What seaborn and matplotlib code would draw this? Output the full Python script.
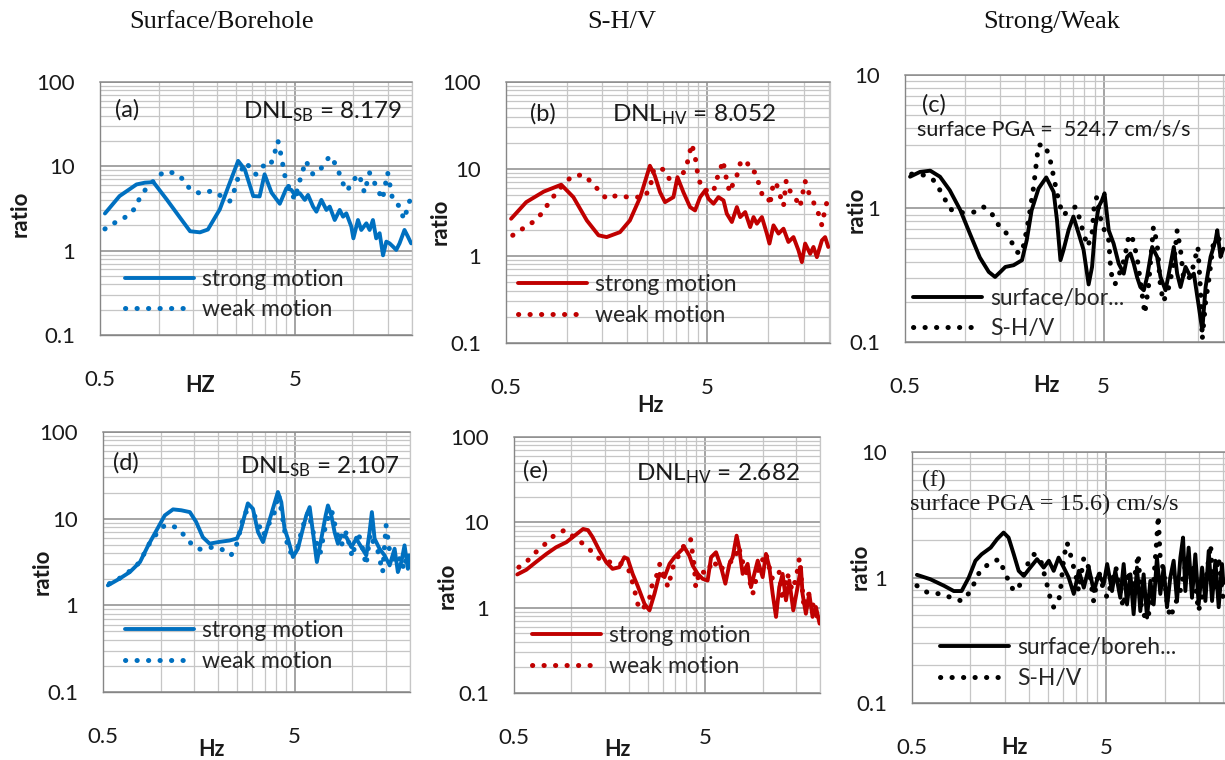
import numpy as np
import pandas as pd
import matplotlib
matplotlib.use("Agg")
import matplotlib.pyplot as plt
import seaborn as sns
from matplotlib.ticker import FixedLocator, FuncFormatter, NullFormatter

# ---------------- data ----------------
titles = ["Surface/Borehole", "S-H/V", "Strong/Weak"]

a_strong_hz = [0.53, 0.63, 0.77, 0.85, 0.94, 1.10, 1.29, 1.45, 1.63, 1.79, 2.06, 2.32, 2.56, 2.77, 3.06, 3.30,
               3.50, 3.80, 4.19, 4.53, 4.81, 5.00, 5.31, 5.63, 5.85, 6.21, 6.46, 6.85, 7.27, 7.56, 8.02, 8.51,
               8.85, 9.20, 9.76, 10.0, 10.56, 10.98, 11.66, 12.12, 12.6, 13.1, 13.64, 14.2, 14.76, 15.35, 15.96,
               16.6, 17.26, 18.3, 19.05, 19.8]
a_strong_ratio = [2.76, 4.44, 6.1, 6.4, 6.5, 4.05, 2.45, 1.7, 1.65, 1.78, 3.08, 6.4, 11.6, 9.2, 4.44, 4.4,
                  8.05, 4.87, 3.6, 5.5, 5.25, 4.58, 4.8, 4.0, 4.58, 3.33, 2.9, 4.0, 3.04, 3.33, 2.31, 3.04,
                  2.53, 2.77, 1.93, 1.4, 2.31, 1.76, 2.11, 1.76, 2.31, 1.4, 1.61, 0.88, 1.28, 1.22, 1.12,
                  1.02, 1.22, 1.76, 1.47, 1.22]
a_weak_hz = [0.53, 0.595, 0.68, 0.76, 0.80, 0.87, 0.96, 1.06, 1.19, 1.34, 1.45, 1.63, 1.87, 2.10, 2.32, 2.46,
             2.60, 2.83, 3.00, 3.16, 3.43, 3.73, 3.95, 4.10, 4.26, 4.45, 4.70, 5.00, 5.30, 5.70, 6.20, 6.70,
             7.13, 7.60, 8.20, 8.80, 9.30, 9.90, 10.7, 11.4, 12.1, 13.1, 14.1, 15.0, 15.9, 17.2, 18.2, 19.8]
a_weak_ratio = [1.81, 2.14, 2.52, 3.2, 4.24, 5.6, 7.0, 8.6, 8.4, 7.0, 5.33, 4.78, 5.1, 4.44, 3.87, 5.33,
                8.4, 11.1, 8.8, 8.05, 10.1, 9.9, 14.6, 20.0, 13.3, 7.7, 5.33, 4.05, 6.7, 11.6, 8.05, 8.8,
                11.1, 13.3, 10.1, 6.4, 5.1, 6.7, 8.05, 4.87, 8.4, 5.8, 4.05, 8.4, 4.05, 3.37, 2.34, 4.44]

b_strong_hz = [0.53, 0.63, 0.77, 0.94, 1.08, 1.26, 1.44, 1.58, 1.84, 2.06, 2.32, 2.59, 2.74, 2.91, 3.08, 3.39,
               3.55, 3.80, 4.10, 4.34, 4.60, 4.87, 5.06, 5.36, 5.67, 6.01, 6.24, 6.61, 7.00, 7.27, 7.70, 8.15,
               8.47, 8.80, 9.32, 9.86, 10.16, 10.64, 11.27, 11.93, 12.62, 13.37, 14.16, 14.72, 15.28, 16.18,
               16.8, 17.47, 18.5, 19.2, 19.9]
b_strong_ratio = [2.68, 4.16, 5.5, 6.6, 4.75, 2.56, 1.73, 1.65, 1.88, 2.56, 4.75, 10.9, 8.4, 5.4, 4.16, 4.75,
                  8.05, 5.4, 3.65, 3.34, 4.75, 5.67, 4.55, 3.99, 4.75, 4.35, 3.06, 2.46, 3.65, 2.80, 3.20, 2.15,
                  2.80, 2.35, 2.80, 1.81, 1.39, 2.25, 1.81, 2.06, 1.45, 1.65, 1.16, 0.85, 1.39, 1.06,
                  1.27, 0.97, 1.51, 1.65, 1.27]
b_weak_hz = [0.54, 0.605, 0.68, 0.75, 0.81, 0.88, 0.96, 1.06, 1.20, 1.33, 1.47, 1.58, 1.77, 2.02, 2.27, 2.44,
             2.60, 2.70, 2.85, 3.08, 3.26, 3.53, 3.81, 3.96, 4.18, 4.35, 4.50, 4.70, 4.97, 5.36, 5.50, 5.75,
             5.97, 6.24, 6.45, 6.70, 7.00, 7.27, 7.80, 8.15, 8.60, 8.95, 9.32, 10.0, 10.2, 10.64, 11.0, 11.4,
             11.93, 12.3, 12.8, 13.6, 14.4, 15.28, 15.9, 16.8, 17.8, 18.5, 19.2, 20.0]
b_weak_ratio = [1.73, 2.06, 2.45, 3.06, 3.98, 5.18, 6.6, 8.2, 8.6, 7.06, 5.4, 4.54, 4.96, 4.75, 4.75, 4.75,
                6.2, 9.6, 10.5, 9.6, 7.4, 6.75, 9.2, 11.4, 19.4, 13.6, 8.05, 5.93, 5.66, 5.4, 7.25, 9.2,
                12.5, 7.3, 5.4, 6.76, 8.4, 11.5, 12.7, 9.6, 9.2, 7.06, 5.19, 5.0, 3.81, 7.06, 6.76, 5.19,
                3.75, 7.3, 5.67, 4.75, 3.65, 7.25, 5.4, 4.16, 3.06, 2.25, 3.5, 4.9]

c_sb_hz = [0.53, 0.595, 0.67, 0.75, 0.84, 0.95, 1.06, 1.19, 1.32, 1.42, 1.51, 1.60, 1.76, 1.94, 2.05, 2.17,
           2.35, 2.57, 2.80, 2.91, 3.03, 3.14, 3.33, 3.52, 3.74, 3.96, 4.20, 4.37, 4.54, 4.72, 4.90, 5.05,
           5.30, 5.61, 5.95, 6.31, 6.56, 6.82, 7.08, 7.36, 7.65, 7.96, 8.27, 8.77, 9.29, 9.66, 10.24, 10.64,
           11.27, 11.72, 12.18, 12.91, 13.68, 14.22, 15.07, 15.67, 16.29, 17.26, 18.29, 18.65, 19.37, 20.0]
c_sb_ratio = [1.73, 1.88, 1.92, 1.73, 1.37, 0.97, 0.65, 0.43, 0.335, 0.307, 0.335, 0.365, 0.376, 0.41, 0.58, 0.97,
              1.41, 1.71, 1.33, 0.82, 0.41, 0.49, 0.69, 0.87, 0.65, 0.49, 0.27, 0.365, 0.73, 1.03, 1.15, 1.30,
              0.687, 0.546, 0.387, 0.325, 0.434, 0.46, 0.387, 0.307, 0.258, 0.244, 0.307, 0.515, 0.434, 0.307,
              0.244, 0.325, 0.515, 0.325, 0.258, 0.365, 0.307, 0.325, 0.183, 0.122, 0.258, 0.434, 0.578, 0.687,
              0.434, 0.5]
c_hv_hz = [0.54, 0.62, 0.695, 0.75, 0.80, 0.86, 0.98, 1.11, 1.24, 1.37, 1.48, 1.60, 1.72, 1.83, 1.94, 2.05,
           2.13, 2.22, 2.30, 2.35, 2.54, 2.69, 2.80, 2.91, 3.03, 3.14, 3.33, 3.61, 3.74, 3.96, 4.16, 4.37,
           4.49, 4.62, 4.79, 5.10, 5.30, 5.40, 5.50, 5.70, 6.00, 6.40, 6.60, 6.90, 7.36, 7.80, 8.05, 8.40,
           8.90, 9.29, 9.66, 10.0, 10.64, 11.27, 11.72, 12.18, 12.65, 13.68, 14.22, 14.9, 15.4, 15.67, 16.3,
           16.9, 17.9, 18.9, 20.0]
c_hv_ratio = [1.81, 1.78, 1.63, 1.37, 1.15, 0.97, 0.93, 0.94, 1.03, 0.91, 0.75, 0.67, 0.56, 0.47, 0.465, 0.69,
              0.97, 1.45, 2.30, 2.99, 2.99, 2.30, 1.73, 1.30, 1.03, 0.89, 0.97, 1.03, 0.89, 0.65, 0.52, 0.65,
              1.09, 1.22, 0.87, 0.65, 0.578, 0.387, 0.307, 0.27, 0.325, 0.434, 0.578, 0.64, 0.434, 0.23, 0.163,
              0.258, 0.728, 0.546, 0.258, 0.20, 0.258, 0.387, 0.687, 0.49, 0.29, 0.307, 0.387, 0.515, 0.23,
              0.105, 0.20, 0.29, 0.578, 0.578, 0.687]

d_strong_hz = [0.53, 0.61, 0.69, 0.78, 0.86, 0.95, 1.05, 1.16, 1.28, 1.42, 1.53, 1.66, 1.80, 2.03, 2.29, 2.50,
               2.62, 2.85, 3.03, 3.22, 3.42, 3.63, 3.85, 4.09, 4.26, 4.43, 4.61, 4.90, 5.20, 5.52, 5.75, 5.99,
               6.23, 6.53, 6.89, 7.26, 7.46, 7.77, 8.08, 8.41, 8.76, 9.30, 9.88, 10.49, 11.14, 11.83, 12.3,
               12.65, 13.07, 13.87, 14.73, 15.66, 16.62, 17.29, 18.02, 18.73, 19.5, 19.95]
d_strong_ratio = [1.70, 2.03, 2.42, 3.16, 4.9, 7.3, 10.9, 12.8, 12.5, 11.9, 9.2, 6.1, 5.15, 5.4, 5.6, 5.9,
                  7.5, 15.0, 13.0, 7.0, 5.37, 8.37, 13.0, 20.3, 15.5, 7.65, 5.87, 3.61, 4.5, 7.65, 10.9, 13.6,
                  7.0, 3.16, 5.87, 10.9, 14.2, 10.9, 7.0, 5.14, 6.42, 6.14, 4.7, 5.87, 4.7, 3.77, 7.0,
                  11.9, 5.87, 4.5, 3.77, 2.89, 4.5, 2.42, 3.16, 4.92, 2.64, 3.77]
d_weak_hz = [0.54, 0.61, 0.68, 0.76, 0.82, 0.89, 0.97, 1.05, 1.2, 1.33, 1.47, 1.62, 1.87, 2.06, 2.33, 2.5,
             2.74, 3.03, 3.25, 3.43, 3.7, 3.93, 4.12, 4.33, 4.5, 4.7, 5.1, 5.5, 5.9, 6.3, 6.8, 7.3, 7.8, 8.3,
             8.8, 9.3, 10.0, 10.7, 11.2, 11.8, 12.4, 13.0, 13.6, 14.4, 15.0, 15.6, 16.3, 17.0, 17.8, 18.6,
             19.3, 19.9]
d_weak_ratio = [1.78, 2.05, 2.42, 3.0, 3.94, 5.6, 7.0, 8.4, 8.0, 6.4, 4.9, 4.4, 4.7, 4.5, 3.78, 5.15,
                11.9, 11.9, 8.5, 6.4, 9.0, 11.9, 19.4, 10.0, 6.0, 4.1, 4.1, 8.0, 12.0, 6.5, 4.0, 9.0, 12.5, 6.8,
                5.0, 7.0, 3.6, 7.0, 5.0, 2.9, 6.7, 5.0, 4.2, 2.4, 8.4, 4.5, 3.6, 3.0, 3.6, 2.6,
                4.0, 3.4]

e_strong_hz = [0.52, 0.58, 0.65, 0.74, 0.83, 0.94, 1.04, 1.15, 1.22, 1.29, 1.40, 1.52, 1.64, 1.78, 1.89, 1.97,
               2.09, 2.22, 2.41, 2.56, 2.72, 2.89, 3.07, 3.26, 3.46, 3.67, 3.90, 4.14, 4.31, 4.58, 4.86, 5.16,
               5.38, 5.71, 6.07, 6.39, 6.71, 6.98, 7.32, 7.56, 7.87, 8.36, 8.70, 9.06, 9.44, 10.02, 10.43,
               10.86, 11.3, 11.77, 12.24, 12.74, 13.27, 13.81, 14.49, 15.27, 15.89, 16.2, 16.87, 17.57,
               18.28, 19.04, 19.9]
e_strong_ratio = [2.45, 2.78, 3.41, 4.27, 5.1, 5.85, 7.0, 8.36, 8.1, 6.7, 4.67, 3.41, 2.85, 2.98, 3.9, 3.73,
                  2.49, 1.8, 1.11, 0.93, 1.46, 2.49, 2.28, 3.26, 3.9, 4.46, 5.1, 4.07, 3.12, 2.49, 2.18, 2.08,
                  3.9, 4.46, 2.98, 1.91, 3.26, 3.9, 6.98, 4.88, 2.49, 3.26, 1.74, 2.49, 3.56, 2.28, 4.27,
                  2.98, 1.46, 0.78, 1.74, 2.49, 1.22, 2.08, 0.93, 1.74, 2.98, 1.46, 0.85, 1.46,
                  0.78, 1.02, 0.65]
e_weak_hz = [0.53, 0.59, 0.65, 0.73, 0.81, 0.92, 1.15, 1.29, 1.40, 1.60, 1.80, 1.97, 2.05, 2.14, 2.22, 2.33,
             2.55, 2.65, 2.82, 2.90, 3.20, 3.40, 3.60, 3.83, 4.05, 4.20, 4.40, 4.47, 4.70, 5.1, 5.5, 6.0, 6.5,
             7.1, 7.5, 8.0, 8.5, 8.9, 9.5, 10.4, 11.2, 12.2, 12.7, 13.5, 14.3, 15.0, 15.6, 16.5, 17.3, 18.3,
             19.0, 19.6]
e_weak_ratio = [2.98, 3.57, 4.46, 5.6, 7.0, 8.1, 5.6, 4.46, 3.73, 3.41, 3.3, 2.98, 2.28, 1.59, 1.11, 0.93,
                1.22, 1.9, 2.49, 3.26, 1.74, 2.98, 3.9, 5.1, 6.1, 6.4, 2.98, 1.74, 2.73, 2.5, 3.6, 2.7, 3.4,
                3.5, 5.2, 3.0, 2.2, 1.46, 2.8, 4.4, 2.2, 2.7, 1.22, 2.5, 1.6, 2.2, 3.8, 1.0, 1.5, 1.1,
                0.9, 0.7]

f_sb_hz = [0.53, 0.62, 0.73, 0.82, 0.90, 0.98, 1.06, 1.14, 1.27, 1.37, 1.48, 1.57, 1.67, 1.77, 1.88, 2.03,
           2.20, 2.38, 2.53, 2.68, 2.84, 3.02, 3.20, 3.40, 3.61, 3.83, 4.06, 4.31, 4.57, 4.85, 5.05, 5.35,
           5.56, 5.90, 6.14, 6.39, 6.65, 6.91, 7.19, 7.48, 7.78, 8.10, 8.42, 8.76, 9.11, 9.48, 9.86, 10.26,
           10.67, 11.1, 11.55, 12.02, 12.41, 12.75, 13.26, 13.8, 14.35, 14.93, 15.55, 16.17, 16.82, 17.5,
           18.2, 18.93, 19.69, 20.0]
f_sb_ratio = [1.05, 0.97, 0.86, 0.78, 0.78, 1.0, 1.36, 1.53, 1.73, 2.02, 2.28, 2.08, 1.53, 1.13, 1.03, 1.2,
              1.4, 1.2, 1.36, 1.13, 1.44, 1.2, 1.0, 0.74, 1.13, 0.83, 1.2, 0.78, 1.06, 0.89, 1.28, 0.78,
              1.13, 0.69, 1.28, 0.61, 1.06, 0.51, 1.2, 0.54, 1.06, 0.48, 0.94, 0.61, 1.44, 0.74, 1.2, 0.58,
              1.0, 1.36, 0.65, 1.44, 2.08, 0.78, 1.73, 0.69, 1.53, 0.61, 1.2, 0.65, 1.63, 0.65,
              1.36, 0.58, 1.28, 0.9]
f_hv_hz = [0.53, 0.60, 0.70, 0.80, 0.90, 0.99, 1.06, 1.12, 1.24, 1.40, 1.48, 1.57, 1.67, 1.77, 1.97, 2.12,
           2.29, 2.47, 2.57, 2.68, 2.84, 2.90, 3.02, 3.14, 3.30, 3.50, 3.60, 3.83, 4.06, 4.30, 4.57, 4.74,
           5.05, 5.6, 6.1, 6.5, 6.8, 7.3, 7.6, 8.1, 8.6, 9.05, 9.25, 9.45, 9.86, 10.3, 10.67, 11.3, 12.0,
           13.0, 14.0, 14.9, 16.2, 17.2, 17.8, 18.9, 20.0]
f_hv_ratio = [0.86, 0.76, 0.74, 0.69, 0.65, 0.76, 0.94, 1.13, 1.28, 1.4, 1.16, 0.94, 0.78, 0.83, 1.28, 1.53,
              1.4, 0.89, 0.69, 0.58, 0.65, 0.78, 1.44, 1.9, 1.44, 1.0, 0.78, 1.44, 1.2, 0.65, 1.13, 0.89,
              0.69, 1.2, 0.58, 1.13, 0.78, 1.53, 0.54, 0.46, 0.65, 1.83, 3.1, 1.5, 1.13, 0.61, 0.48, 0.61, 0.78,
              1.44, 1.2, 0.54, 0.9, 1.83, 0.78, 1.44, 0.65]

# ---------------- styling ----------------
W, H = 1225, 760
BLUE, RED, BLACK = "#0070C0", "#C00000", "#000000"
TXT = "#1a1a1a"
AXC = "#868686"
GMAJ, GMIN = "#8c8c8c", "#c6c6c6"

sns.set_theme(style="white")
plt.rcParams['font.family'] = ['Lato', 'DejaVu Sans']
plt.rcParams['mathtext.default'] = 'regular'

fig = plt.figure(figsize=(W / 100, H / 100), dpi=100)


def fx(x):
    return x / W


def fy(y):
    return 1 - y / H


panels = [
    dict(rect=(100, 82, 412, 335), ylim=(0.1, 100), xmax=20, color=BLUE,
         s1=(a_strong_hz, a_strong_ratio, "strong motion"), s2=(a_weak_hz, a_weak_ratio, "weak motion"),
         leg=(125, 294.5), tag="(a)", tagpos=(115, 110), note=r"DNL$_{SB}$ = 8.179", notepos=(402, 118),
         ylab=(20, 214), xlab=("HZ", 200, 385), serif=False),
    dict(rect=(506, 82, 830, 343), ylim=(0.1, 100), xmax=20.3, color=RED,
         s1=(b_strong_hz, b_strong_ratio, "strong motion"), s2=(b_weak_hz, b_weak_ratio, "weak motion"),
         leg=(518, 300), tag="(b)", tagpos=(530, 114), note=r"DNL$_{HV}$ = 8.052", notepos=(776, 121),
         ylab=(440, 222), xlab=("Hz", 650, 405), serif=False),
    dict(rect=(905, 75, 1225, 342), ylim=(0.1, 10), xmax=20.4, color=BLACK,
         s1=(c_sb_hz, c_sb_ratio, "surface/bor..."), s2=(c_hv_hz, c_hv_ratio, "S-H/V"),
         leg=(913, 313.5), tag="(c)", tagpos=(922, 105), note="surface PGA =  524.7 cm/s/s", notepos=(917, 135),
         ylab=(856, 210), xlab=("Hz", 1046, 385), serif=False),
    dict(rect=(103, 432, 410, 692), ylim=(0.1, 100), xmax=20, color=BLUE,
         s1=(d_strong_hz, d_strong_ratio, "strong motion"), s2=(d_weak_hz, d_weak_ratio, "weak motion"),
         leg=(125, 646), tag="(d)", tagpos=(113, 463), note=r"DNL$_{SB}$ = 2.107", notepos=(400, 473),
         ylab=(42, 572), xlab=("Hz", 211, 750), serif=False),
    dict(rect=(514, 437, 820, 693), ylim=(0.1, 100), xmax=20, color=RED,
         s1=(e_strong_hz, e_strong_ratio, "strong motion"), s2=(e_weak_hz, e_weak_ratio, "weak motion"),
         leg=(532, 651), tag="(e)", tagpos=(523, 471), note=r"DNL$_{HV}$ = 2.682", notepos=(800, 480),
         ylab=(447, 586), xlab=("Hz", 617, 750), serif=False),
    dict(rect=(912, 452, 1225, 703), ylim=(0.1, 10), xmax=20.4, color=BLACK,
         s1=(f_sb_hz, f_sb_ratio, "surface/boreh..."), s2=(f_hv_hz, f_hv_ratio, "S-H/V"),
         leg=(940, 663), tag="(f)", tagpos=(922, 480), note="surface PGA = 15.6) cm/s/s", notepos=(910, 510),
         ylab=(860, 567), xlab=("Hz", 1014, 748), serif=True),
]

x_minor = [0.5 * k for k in range(1, 10)] + [5.0 * k for k in range(1, 5)]
y_minor = [m * 10.0 ** e for e in range(-1, 2) for m in range(2, 10)]

for p in panels:
    l, t, r, b = p["rect"]
    ax = fig.add_axes([fx(l), fy(b), (r - l) / W, (b - t) / H])
    ax.set_xscale("log")
    ax.set_yscale("log")

    hz1, ra1, lab1 = p["s1"]
    hz2, ra2, lab2 = p["s2"]
    df1 = pd.DataFrame({"Hz": hz1, "ratio": ra1})
    df2 = pd.DataFrame({"Hz": hz2, "ratio": ra2})
    sns.lineplot(data=df2, x="Hz", y="ratio", ax=ax, color=p["color"], lw=3.6, label=lab2,
                 estimator=None, sort=False, linestyle=(0, (0.05, 2.25)), dash_capstyle="round", zorder=3)
    sns.lineplot(data=df1, x="Hz", y="ratio", ax=ax, color=p["color"], lw=2.8, label=lab1,
                 estimator=None, sort=False, zorder=4)

    ax.set_xlim(0.5, p["xmax"])
    ax.set_ylim(*p["ylim"])
    ax.xaxis.set_major_locator(FixedLocator([0.5, 5]))
    ax.xaxis.set_minor_locator(FixedLocator(x_minor))
    ax.yaxis.set_major_locator(FixedLocator([0.1, 1, 10, 100]))
    ax.yaxis.set_minor_locator(FixedLocator(y_minor))
    fmt = FuncFormatter(lambda v, pos: f"{v:g}")
    ax.xaxis.set_major_formatter(fmt)
    ax.yaxis.set_major_formatter(fmt)
    ax.xaxis.set_minor_formatter(NullFormatter())
    ax.yaxis.set_minor_formatter(NullFormatter())

    ax.grid(which="major", color=GMAJ, lw=1.1)
    ax.grid(which="minor", color=GMIN, lw=0.9)
    ax.set_axisbelow(True)
    ax.tick_params(which="major", direction="out", length=6, width=1.0, color=AXC,
                   labelsize=16, labelcolor=TXT)
    ax.tick_params(axis="x", which="major", pad=19)
    ax.tick_params(axis="y", which="major", pad=12)
    ax.tick_params(which="minor", length=0)
    ax.set_xlabel("")
    ax.set_ylabel("")
    for s in ("left", "bottom"):
        ax.spines[s].set_color(AXC)
        ax.spines[s].set_linewidth(1.0)
    ax.spines["top"].set_color(GMAJ)
    ax.spines["top"].set_linewidth(1.1)
    ax.spines["right"].set_color(GMIN)
    ax.spines["right"].set_linewidth(0.9)

    handles, labels = ax.get_legend_handles_labels()
    order = [labels.index(lab1), labels.index(lab2)]
    leg = ax.legend([handles[i] for i in order], [labels[i] for i in order],
                    loc="center left", bbox_to_anchor=(fx(p["leg"][0]), fy(p["leg"][1])),
                    bbox_transform=fig.transFigure, frameon=False, fontsize=16.5,
                    handlelength=3.0, handletextpad=0.35, labelspacing=0.42,
                    borderpad=0, borderaxespad=0)
    for txt in leg.get_texts():
        txt.set_color("#262626")

    fam = ["Liberation Serif", "DejaVu Serif"] if p["serif"] else ["Lato", "DejaVu Sans"]
    fig.text(fx(p["tagpos"][0]), fy(p["tagpos"][1]), p["tag"], ha="left", va="center",
             fontsize=17, color=TXT, family=fam)
    if p["note"].startswith("DNL"):
        fig.text(fx(p["notepos"][0]), fy(p["notepos"][1]), p["note"], ha="right", va="baseline",
                 fontsize=17.5, color=TXT, family=fam)
    else:
        fig.text(fx(p["notepos"][0]), fy(p["notepos"][1]), p["note"], ha="left", va="baseline",
                 fontsize=17.5 if p["serif"] else 15.5, color=TXT, family=fam)

    fig.text(fx(p["ylab"][0]), fy(p["ylab"][1]), "ratio", rotation=90, ha="center", va="center",
             fontsize=16, fontweight="bold", color=TXT)
    xl, xx, xy = p["xlab"]
    fig.text(fx(xx), fy(xy), xl, ha="center", va="center", fontsize=15.5, fontweight="bold", color=TXT)

title_x = [222, 622, 1052]
for tx, tt in zip(title_x, titles):
    fig.text(fx(tx), fy(22), tt, ha="center", va="center", fontsize=19,
             family=["Liberation Serif", "DejaVu Serif"], color="#111111")

fig.savefig("out.png", dpi=100)
